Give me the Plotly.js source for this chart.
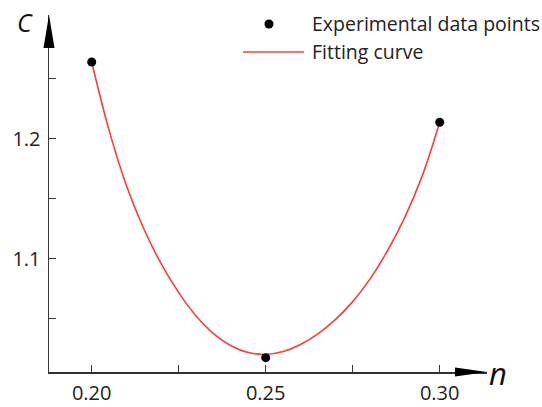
<!DOCTYPE html>
<html>
<head>
<meta charset="utf-8">
<script src="https://cdn.plot.ly/plotly-3.0.1.min.js"></script>
<style>html,body{margin:0;padding:0;background:#fff;}#chart{width:542px;height:407px;}</style>
</head>
<body>
<div id="chart"></div>
<script>
// Experimental data points
const expN = [0.20, 0.25, 0.30];
const expC = [1.264, 1.0176, 1.2138];

// Fitting curve
const fitN = [0.200, 0.205, 0.210, 0.215, 0.220, 0.225, 0.230, 0.235, 0.240, 0.245, 0.250,
              0.255, 0.260, 0.265, 0.270, 0.275, 0.280, 0.285, 0.290, 0.295, 0.300];
const fitC = [1.2640, 1.2070, 1.1609, 1.1248, 1.0957, 1.0718, 1.0524, 1.0377, 1.0276, 1.0219, 1.0203,
              1.0227, 1.0286, 1.0375, 1.0493, 1.0643, 1.0833, 1.1067, 1.1348, 1.1693, 1.2138];

// Tick labels
const xTickVals = [0.20, 0.225, 0.25, 0.275, 0.30];
const xTickText = ['0.20', '', '0.25', '', '0.30'];
const yTickVals = [1.05, 1.10, 1.15, 1.20, 1.25];
const yTickText = ['', '1.1', '', '1.2', ''];

const legendLabels = ['Experimental data points', 'Fitting curve'];
const axisLabelX = 'n';
const axisLabelY = 'C';

const FONT = '"Open Sans", "Noto Sans", sans-serif';
const AX = '#333333';

const traces = [
  {
    x: fitN, y: fitC, type: 'scatter', mode: 'lines',
    line: {color: '#ff3b3b', width: 1.6, shape: 'spline', smoothing: 1},
    name: legendLabels[1], showlegend: false, hoverinfo: 'skip'
  },
  {
    x: expN, y: expC, type: 'scatter', mode: 'markers',
    marker: {color: '#000000', size: 9},
    name: legendLabels[0], showlegend: false
  }
];

// plot area in pixels: x 49..487, y 15..372.5
const L = 49, R = 487, T = 15, B = 372.5;
const W = 542, H = 407;
const px = v => (v - L) / (R - L);
const py = v => (B - v) / (B - T);

const layout = {
  width: W, height: H,
  margin: {l: L, r: W - R, t: T, b: H - B, pad: 0},
  paper_bgcolor: '#ffffff', plot_bgcolor: '#ffffff',
  showlegend: false,
  font: {family: FONT, color: '#222222'},
  xaxis: {
    range: [0.18773, 0.31359],
    tickmode: 'array', tickvals: xTickVals, ticktext: xTickText,
    ticks: 'inside', ticklen: 7, tickwidth: 1.2, tickcolor: AX,
    showline: true, linecolor: AX, linewidth: 1.5,
    showgrid: false, zeroline: false,
    tickfont: {family: FONT, size: 20, color: '#222222'},
    ticklabelstandoff: 2
  },
  yaxis: {
    range: [1.00567, 1.30317],
    tickmode: 'array', tickvals: yTickVals, ticktext: yTickText,
    ticks: 'inside', ticklen: 7, tickwidth: 1.2, tickcolor: AX,
    showline: true, linecolor: AX, linewidth: 1.5,
    showgrid: false, zeroline: false,
    tickfont: {family: FONT, size: 20, color: '#222222'},
    ticklabelstandoff: 3
  },
  shapes: [
    // y-axis arrow
    {type: 'path', xref: 'paper', yref: 'paper',
     path: `M ${px(43.5)} ${py(48)} L ${px(49)} ${py(15)} L ${px(54.5)} ${py(48)} Z`,
     fillcolor: '#000000', line: {width: 0}},
    // x-axis arrow
    {type: 'path', xref: 'paper', yref: 'paper',
     path: `M ${px(455)} ${py(368)} L ${px(487)} ${py(372.5)} L ${px(455)} ${py(377)} Z`,
     fillcolor: '#000000', line: {width: 0}},
    // legend marker
    {type: 'circle', xref: 'paper', yref: 'paper',
     x0: px(264.5), x1: px(273.5), y0: py(28.5), y1: py(19.5),
     fillcolor: '#000000', line: {width: 0}},
    // legend line
    {type: 'line', xref: 'paper', yref: 'paper',
     x0: px(243), x1: px(304), y0: py(52), y1: py(52),
     line: {color: '#ff3b3b', width: 1.6}}
  ],
  annotations: [
    {xref: 'paper', yref: 'paper', x: px(310), y: py(24), xanchor: 'left', yanchor: 'middle',
     text: legendLabels[0], showarrow: false, font: {family: FONT, size: 19.5, color: '#222222'}},
    {xref: 'paper', yref: 'paper', x: px(310), y: py(52), xanchor: 'left', yanchor: 'middle',
     text: legendLabels[1], showarrow: false, font: {family: FONT, size: 19.5, color: '#222222'}},
    {xref: 'paper', yref: 'paper', x: px(25), y: py(22), xanchor: 'center', yanchor: 'middle',
     text: '<i>' + axisLabelY + '</i>', showarrow: false, font: {family: FONT, size: 25, color: '#111111'}},
    {xref: 'paper', yref: 'paper', x: px(498), y: py(374), xanchor: 'center', yanchor: 'middle',
     text: '<i>' + axisLabelX + '</i>', showarrow: false, font: {family: FONT, size: 31, color: '#111111'}}
  ]
};

Plotly.newPlot('chart', traces, layout, {staticPlot: true, displayModeBar: false});
</script>
</body>
</html>
